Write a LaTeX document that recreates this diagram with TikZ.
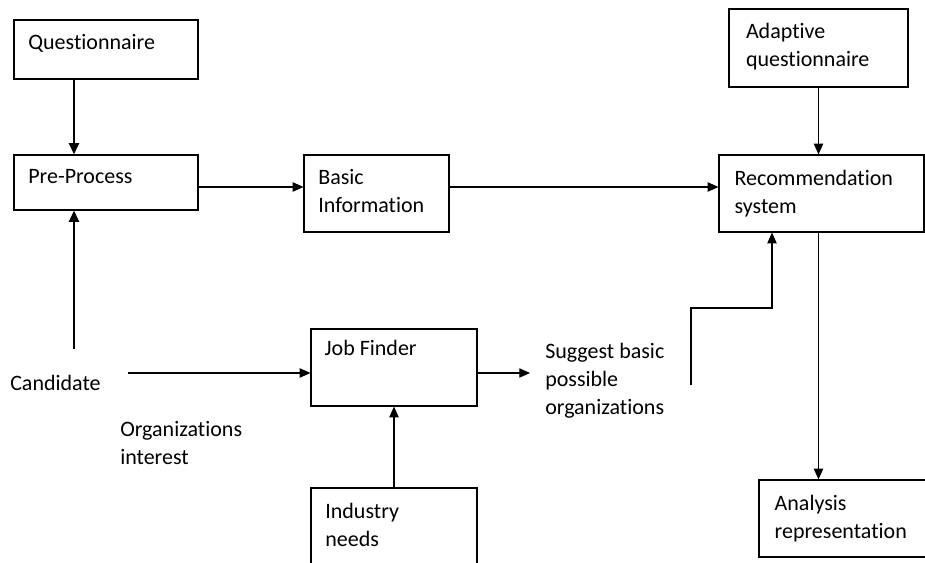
\documentclass[tikz,border=0pt]{standalone}
\usepackage{fontspec}
\setmainfont{Carlito}[Ligatures=NoCommon]
\usetikzlibrary{arrows.meta}
\usetikzlibrary{positioning}
\usetikzlibrary{fit}

\tikzset{
  box/.style={draw, line width=0.9pt, inner sep=0pt},
  txt/.style={inner sep=0pt, align=left, font=\fontsize{16.5}{21}\selectfont},
  arr/.style={line width=0.8pt, -{Triangle[length=8pt,width=7pt]}},
  thickarr/.style={line width=1.7pt, -{Triangle[length=8.5pt,width=7.5pt]}},
}

\begin{document}
\begin{tikzpicture}[x=0.75pt,y=-0.75pt]
\useasboundingbox (0,0) rectangle (925,563);
\clip (0,0) rectangle (925,563);

%Boxes
\node[box, fit={(14,20) (198,79)}] (qst) {};
\node[box, fit={(14,155) (198,210)}] (pre) {};
\node[box, fit={(304,155) (449,232)}] (bas) {};
\node[box, fit={(729,9) (908,87)}] (adq) {};
\node[box, fit={(719,155) (924,232)}] (rec) {};
\node[box, fit={(311,329) (477,406)}] (jobf) {};
\node[box, fit={(311,488) (477,600)}] (ind) {};
\node[box, fit={(759,480) (960,557)}] (ana) {};

%Box texts
\node[txt, below right=11pt and 11pt of qst.north west] (qst-t) {Questionnaire};
\node[txt, below right=11pt and 11pt of pre.north west] (pre-t) {Pre-Process};
\node[txt, below right=11pt and 11pt of bas.north west] (bas-t) {Basic\\Information};
\node[txt, below right=11pt and 13pt of adq.north west] (adq-t) {Adaptive\\questionnaire};
\node[txt, below right=12pt and 12pt of rec.north west] (rec-t) {Recommendation\\system};
\node[txt, below right=9pt and 10.5pt of jobf.north west] (jobf-t) {Job Finder};
\node[txt, below right=12pt and 11pt of ind.north west] (ind-t) {Industry\\needs};
\node[txt, below right=12pt and 12pt of ana.north west] (ana-t) {Analysis\\representation};

%Free texts
\node[txt, anchor=west] (cnd) at (10,383) {Candidate};
\node[txt, anchor=north west] (org) at (120,421) {Organizations\\interest};
\node[txt, anchor=north west] (sug) at (545,343) {Suggest basic\\possible\\organizations};

%Helper points
\coordinate (lft) at (74,0);
\coordinate (mid) at (0,187);
\coordinate (cnd-up) at (74,349);
\coordinate (cnd-out) at (128,373);
\coordinate (sug-in) at (530,373);
\coordinate (sug-up) at (691,385);
\coordinate (bend) at (772,308);

%Connectors
\draw[thickarr] (qst.south -| lft) -- (pre.north -| lft);
\draw[thickarr] (cnd-up) -- (pre.south -| cnd-up);
\draw[arr] (pre.east |- mid) -- (bas.west |- mid);
\draw[arr] (bas.east |- mid) -- (rec.west |- mid);
\draw[arr] (adq.south) -- (adq.south |- rec.north);
\draw[arr] (rec.south -| adq.south) -- (ana.north -| adq.south);
\draw[arr] (cnd-out) -- (jobf.west |- cnd-out);
\draw[arr] (jobf.east |- cnd-out) -- (sug-in);
\draw[arr] (ind.north) -- (jobf.south);
\draw[arr] (sug-up) |- (bend) -- (bend |- rec.south);

\end{tikzpicture}
\end{document}
